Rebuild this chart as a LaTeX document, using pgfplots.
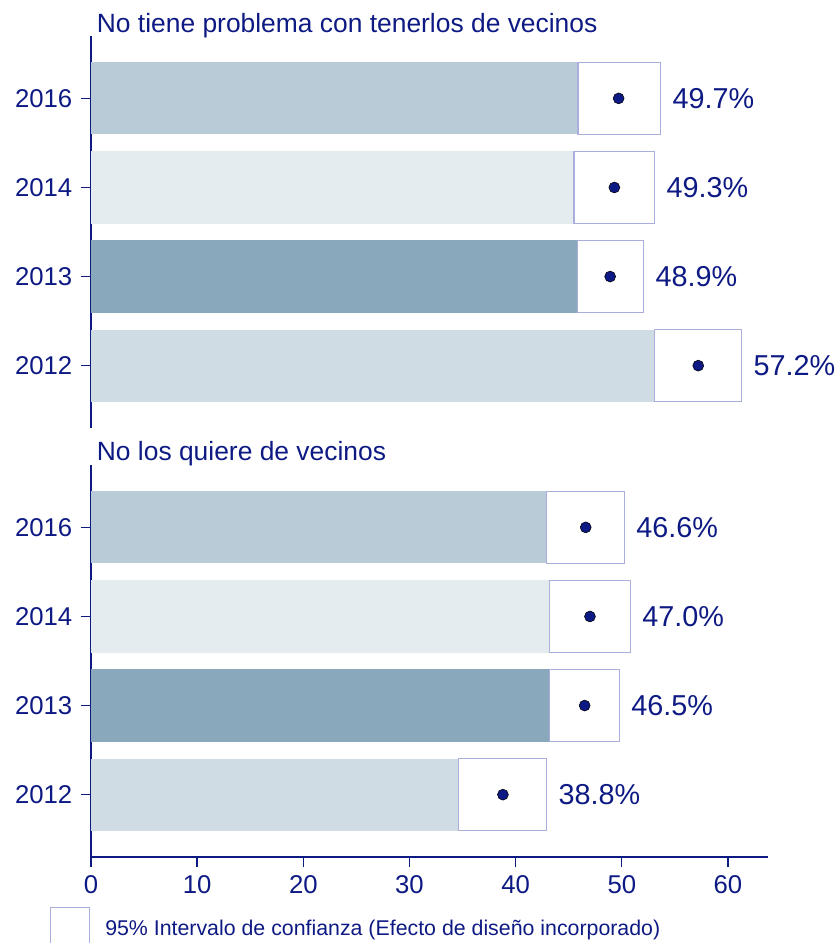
\documentclass[border=0pt]{standalone}
\usepackage{fontspec}
\setmainfont{Liberation Sans}
\usepackage{pgfplots}
\pgfplotsset{compat=1.18}
\definecolor{navy}{RGB}{14,26,132}
\definecolor{c2016}{RGB}{185,203,215}
\definecolor{c2014}{RGB}{229,236,240}
\definecolor{c2013}{RGB}{138,168,188}
\definecolor{c2012}{RGB}{208,220,227}
\definecolor{boxc}{RGB}{170,174,220}

\tikzset{vlab/.style={anchor=west, inner sep=0pt, xshift=8.8pt, font=\fontsize{21.6}{24}\selectfont, text=navy}}
\pgfplotsset{
  panel/.style={
    scale only axis, width=507.75pt, height=294pt,
    xmin=0, xmax=63.77, ymin=0.3, ymax=4.7,
    axis y line*=left,
    ytick={1,2,3,4}, yticklabels={2012,2013,2014,2016},
    tick align=outside, major tick length=7.5pt,
    axis line style={navy, line width=1pt},
    tick style={navy, line width=1pt},
    ticklabel style={font=\fontsize{19.3}{22}\selectfont, text=navy},
    yticklabel style={xshift=-3pt},
    xticklabel style={yshift=-3pt},
    /pgf/number format/assume math mode=true,
    clip=false,
  },
  barp/.style={xbar, bar width=0.81, draw=none, fill=#1, forget plot},
  boxp/.style={draw=boxc, line width=1pt, fill=white, forget plot},
  estp/.style={only marks, mark=*, mark size=4.1pt, mark options={fill=navy, draw=none}, forget plot},
}

\begin{document}
\begin{tikzpicture}
\useasboundingbox (0pt,0pt) rectangle (628.5pt,-707.25pt);

% ---------- Top panel ----------
\begin{axis}[panel, at={(68.25pt,-321pt)}, anchor=south west, axis x line=none]
  % bars up to lower CI bound
  \addplot[barp=c2016] coordinates {(45.87,4)};
  \addplot[barp=c2014] coordinates {(45.49,3)};
  \addplot[barp=c2013] coordinates {(45.81,2)};
  \addplot[barp=c2012] coordinates {(53.06,1)};
  % confidence interval boxes
  \addplot[boxp] coordinates {(45.87,3.595) (53.66,3.595) (53.66,4.405) (45.87,4.405)} -- cycle;
  \addplot[boxp] coordinates {(45.49,2.595) (53.09,2.595) (53.09,3.405) (45.49,3.405)} -- cycle;
  \addplot[boxp] coordinates {(45.81,1.595) (52.05,1.595) (52.05,2.405) (45.81,2.405)} -- cycle;
  \addplot[boxp] coordinates {(53.06,0.595) (61.29,0.595) (61.29,1.405) (53.06,1.405)} -- cycle;
  % estimates
  \addplot[estp] coordinates {(49.7,4) (49.3,3) (48.9,2) (57.2,1)};
  \node[vlab] at (axis cs:53.66,4) {49.7\%};
  \node[vlab] at (axis cs:53.09,3) {49.3\%};
  \node[vlab] at (axis cs:52.05,2) {48.9\%};
  \node[vlab] at (axis cs:61.29,1) {57.2\%};
\end{axis}

% ---------- Bottom panel ----------
\begin{axis}[panel, at={(68.25pt,-642.75pt)}, anchor=south west,
  axis x line*=bottom, xtick={0,10,20,30,40,50,60}]
  \addplot[barp=c2016] coordinates {(42.88,4)};
  \addplot[barp=c2014] coordinates {(43.17,3)};
  \addplot[barp=c2013] coordinates {(43.17,2)};
  \addplot[barp=c2012] coordinates {(34.60,1)};
  \addplot[boxp] coordinates {(42.88,3.595) (50.23,3.595) (50.23,4.405) (42.88,4.405)} -- cycle;
  \addplot[boxp] coordinates {(43.17,2.595) (50.80,2.595) (50.80,3.405) (43.17,3.405)} -- cycle;
  \addplot[boxp] coordinates {(43.17,1.595) (49.76,1.595) (49.76,2.405) (43.17,2.405)} -- cycle;
  \addplot[boxp] coordinates {(34.60,0.595) (42.92,0.595) (42.92,1.405) (34.60,1.405)} -- cycle;
  \addplot[estp] coordinates {(46.6,4) (47.0,3) (46.5,2) (38.8,1)};
  \node[vlab] at (axis cs:50.23,4) {46.6\%};
  \node[vlab] at (axis cs:50.80,3) {47.0\%};
  \node[vlab] at (axis cs:49.76,2) {46.5\%};
  \node[vlab] at (axis cs:42.92,1) {38.8\%};
\end{axis}

% titles
\node[anchor=base west, inner sep=0pt, text=navy, font=\fontsize{19.8}{22}\selectfont] at (72.5pt,-24.2pt) {No tiene problema con tenerlos de vecinos};
\node[anchor=base west, inner sep=0pt, text=navy, font=\fontsize{19.8}{22}\selectfont] at (72.5pt,-345pt) {No los quiere de vecinos};

% legend
\draw[boxc, line width=1pt] (38.0pt,-707.25pt) -- (38.0pt,-680.5pt) -- (67.0pt,-680.5pt) -- (67.0pt,-707.25pt);
\node[anchor=base west, inner sep=0pt, text=navy, font=\fontsize{16}{19}\selectfont] at (78.75pt,-701.25pt) {95\% Intervalo de confianza (Efecto de diseño incorporado)};
\end{tikzpicture}
\end{document}
